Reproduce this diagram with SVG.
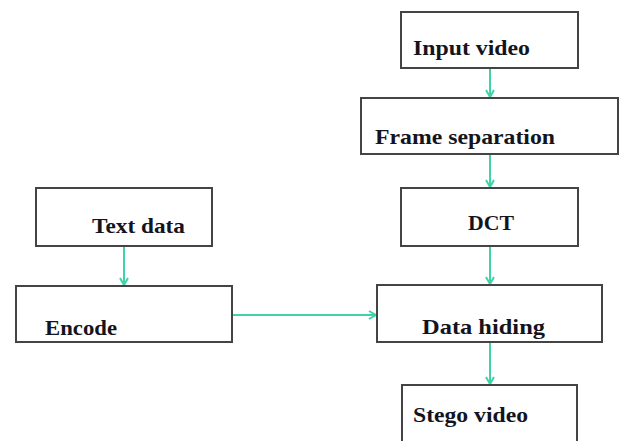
<svg xmlns="http://www.w3.org/2000/svg" width="626" height="441" viewBox="0 0 626 441">
<defs>
<style>
.box{fill:#fff;stroke:#444;stroke-width:2}
.lbl{font-family:"Liberation Serif","DejaVu Serif",serif;font-weight:bold;font-size:21px;fill:#14141e}
.con{stroke:#3fd3a9;stroke-width:2;fill:none}
</style>
<marker id="ah" markerWidth="10" markerHeight="10" refX="8" refY="5" orient="auto" markerUnits="userSpaceOnUse">
<path d="M1,1 L8,5 L1,9" fill="none" stroke="#3fd3a9" stroke-width="2"/>
</marker>
</defs>
<rect width="626" height="441" fill="#fff"/>
<g id="connectors">
<line class="con" x1="490" y1="69" x2="490" y2="97" marker-end="url(#ah)"/>
<line class="con" x1="490" y1="155" x2="490" y2="187" marker-end="url(#ah)"/>
<line class="con" x1="490" y1="247" x2="490" y2="284" marker-end="url(#ah)"/>
<line class="con" x1="490" y1="343" x2="490" y2="384" marker-end="url(#ah)"/>
<line class="con" x1="124" y1="247" x2="124" y2="285" marker-end="url(#ah)"/>
<line class="con" x1="233" y1="315" x2="376" y2="315" marker-end="url(#ah)"/>
</g>
<g id="input-video"><rect class="box" x="401" y="12" width="177" height="56"/><text class="lbl" x="413" y="55" textLength="117" lengthAdjust="spacingAndGlyphs">Input video</text></g>
<g id="frame-separation"><rect class="box" x="361" y="98" width="257" height="56"/><text class="lbl" x="375" y="144" textLength="180" lengthAdjust="spacingAndGlyphs">Frame separation</text></g>
<g id="dct"><rect class="box" x="401" y="188" width="177" height="58"/><text class="lbl" x="468" y="230" textLength="46" lengthAdjust="spacingAndGlyphs">DCT</text></g>
<g id="data-hiding"><rect class="box" x="377" y="285" width="225" height="57"/><text class="lbl" x="422" y="334" textLength="123" lengthAdjust="spacingAndGlyphs">Data hiding</text></g>
<g id="stego-video"><rect class="box" x="402" y="385" width="175" height="62"/><text class="lbl" x="413" y="422" textLength="115" lengthAdjust="spacingAndGlyphs">Stego video</text></g>
<g id="text-data"><rect class="box" x="36" y="188" width="176" height="58"/><text class="lbl" x="92" y="233" textLength="93" lengthAdjust="spacingAndGlyphs">Text data</text></g>
<g id="encode"><rect class="box" x="16" y="286" width="216" height="56"/><text class="lbl" x="45" y="335" textLength="72" lengthAdjust="spacingAndGlyphs">Encode</text></g>
</svg>
